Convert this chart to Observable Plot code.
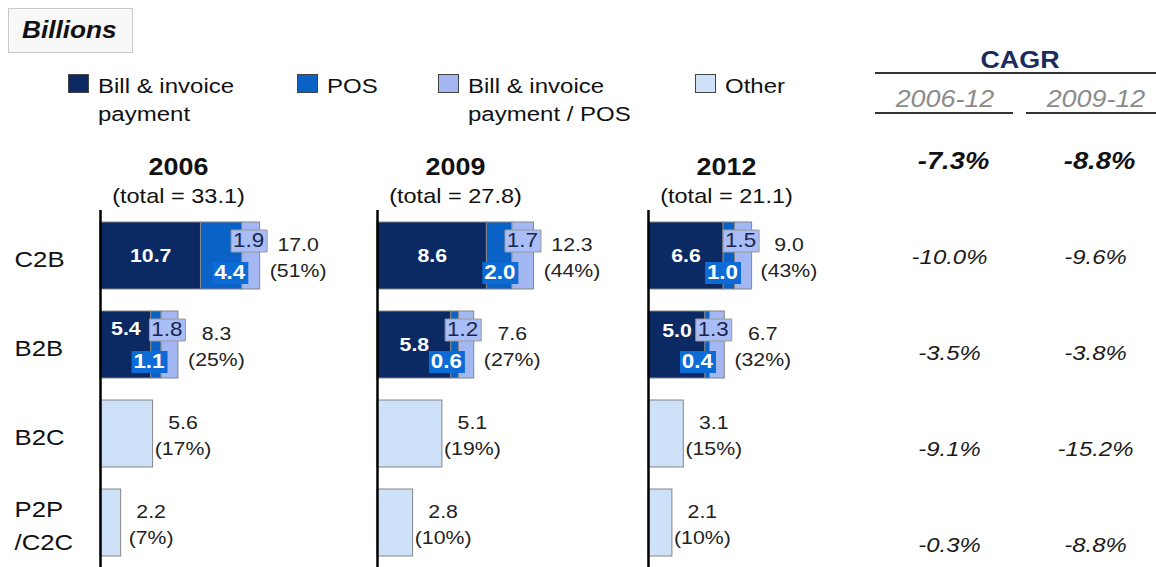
<!DOCTYPE html>
<html>
<head>
<meta charset="utf-8">
<script src="https://cdn.jsdelivr.net/npm/d3@7"></script>
<script src="https://cdn.jsdelivr.net/npm/@observablehq/plot@0.6"></script>
<style>
  body { margin: 0; background: #fff; overflow: hidden; font-family: "Liberation Sans", Arial, sans-serif; }
  #root { position: relative; width: 1156px; height: 567px; overflow: hidden; background: #fff; }
  .abs { position: absolute; }
  .billions { left: 8px; top: 8px; width: 125px; height: 45px; border: 1px solid #c9c9c9; background: #f8f8f8; box-sizing: border-box; }
  .billions span { position: absolute; left: 13px; top: 0; line-height: 43px; font-weight: bold; font-style: italic; font-size: 23px; color: #111;
                   transform: scaleX(1.14); transform-origin: left center; }
  .sw { width: 21px; height: 19px; border: 1px solid #444; box-sizing: border-box; }
  .lg { font-size: 20px; line-height: 28px; color: #111; width: 150px; transform: scaleX(1.2); transform-origin: left top; }
  .cagr { font-weight: bold; font-size: 24px; color: #1c2b5e; text-align: center; line-height: 26px; transform: scaleX(1.12); }
  .hline { height: 2px; background: #333; }
  .period { font-style: italic; font-size: 24px; color: #8c8c8c; text-align: center; line-height: 26px; transform: scaleX(1.12); }
</style>
</head>
<body>
<div id="root"></div>
<script>
// ---------------- data ----------------
const years = ["2006", "2009", "2012"];
const yearTotals = [33.1, 27.8, 21.1];
const categories = ["C2B", "B2B", "B2C", "P2P/C2C"];
const segments = ["Bill & invoice payment", "POS", "Bill & invoice payment / POS", "Other"];
const segmentColors = ["#0b2a63", "#0a62c6", "#a3b8f2", "#cde1f9"];

const c2bBill  = [10.7, 8.6, 6.6];
const c2bPOS   = [4.4, 2.0, 1.0];
const c2bMixed = [1.9, 1.7, 1.5];
const b2bBill  = [5.4, 5.8, 5.0];
const b2bPOS   = [1.1, 0.6, 0.4];
const b2bMixed = [1.8, 1.2, 1.3];
const b2cOther = [5.6, 5.1, 3.1];
const p2pOther = [2.2, 2.8, 2.1];

const c2bTotal = [17.0, 12.3, 9.0];
const b2bTotal = [8.3, 7.6, 6.7];
const c2bShare = [51, 44, 43];
const b2bShare = [25, 27, 32];
const b2cShare = [17, 19, 15];
const p2pShare = [7, 10, 10];

const cagrRows = ["Total", "C2B", "B2B", "B2C", "P2P/C2C"];
const cagrPeriods = ["2006-12", "2009-12"];
const cagr2006to12 = [-7.3, -10.0, -3.5, -9.1, -0.3];
const cagr2009to12 = [-8.8, -9.6, -3.8, -15.2, -8.8];

// ---------------- helpers ----------------
const FONT = '"Liberation Sans", Arial, sans-serif';
const root = document.getElementById("root");
function el(cls, css, html) {
  const d = document.createElement("div");
  d.className = "abs " + (cls || "");
  Object.assign(d.style, css);
  if (html != null) d.innerHTML = html;
  root.appendChild(d);
  return d;
}
// the reference typeface is horizontally widened; widen each text about its anchor
function widenText(svg, s) {
  svg.querySelectorAll("text").forEach(t => {
    const xa = t.getAttribute("x");
    const x = xa != null && /^-?[\d.]+$/.test(xa) ? +xa : 0;
    const old = t.getAttribute("transform") || "";
    t.setAttribute("transform", `${old} translate(${x},0) scale(${s},1) translate(${-x},0)`);
  });
}
const boxSymbol = (w, h) => ({draw(ctx) { ctx.rect(-w / 2, -h / 2, w, h); }});

// ---------------- HTML header parts ----------------
el("billions", {}, "<span>Billions</span>");

const legendX = [68, 297, 438, 695];
segments.forEach((s, i) => {
  el("sw", {left: legendX[i] + "px", top: "74px", background: segmentColors[i]});
  el("lg", {left: (legendX[i] + 30) + "px", top: "72px"}, s.replace(/&/g, "&amp;"));
});

el("cagr", {left: "875px", width: "290px", top: "47px"}, "CAGR");
el("hline", {left: "875px", width: "281px", top: "72px"});
el("period", {left: "875px", width: "140px", top: "86px"}, cagrPeriods[0]);
el("hline", {left: "875px", width: "138px", top: "112px"});
el("period", {left: "1027px", width: "138px", top: "86px"}, cagrPeriods[1]);
el("hline", {left: "1026px", width: "130px", top: "112px"});

// ---------------- year panels ----------------
const panels = [
  {left: 0,   width: 377, marginLeft: 100, xMax: 29.5, b2bLabelDy: -16},
  {left: 367, width: 281, marginLeft: 10,  xMax: 21.3, b2bLabelDy: 0},
  {left: 638, width: 232, marginLeft: 10,  xMax: 19.5, b2bLabelDy: -14}
];

panels.forEach((p, i) => {
  const rows = [
    {cat: "C2B", seg: segments[0], value: c2bBill[i]},
    {cat: "C2B", seg: segments[1], value: c2bPOS[i]},
    {cat: "C2B", seg: segments[2], value: c2bMixed[i]},
    {cat: "B2B", seg: segments[0], value: b2bBill[i]},
    {cat: "B2B", seg: segments[1], value: b2bPOS[i]},
    {cat: "B2B", seg: segments[2], value: b2bMixed[i]},
    {cat: "B2C", seg: segments[3], value: b2cOther[i]},
    {cat: "P2P/C2C", seg: segments[3], value: p2pOther[i]}
  ];
  const totals = [
    {cat: "C2B", total: c2bTotal[i], share: c2bShare[i], stacked: true},
    {cat: "B2B", total: b2bTotal[i], share: b2bShare[i], stacked: true},
    {cat: "B2C", total: b2cOther[i], share: b2cShare[i], stacked: false},
    {cat: "P2P/C2C", total: p2pOther[i], share: p2pShare[i], stacked: false}
  ];
  const fmt = v => v.toFixed(1);
  const isPOS = d => d.seg === segments[1];
  const isMixed = d => d.seg === segments[2];
  const marks = [
    Plot.barX(rows, Plot.stackX({x: "value", y: "cat", fill: "seg", stroke: "#858585", strokeWidth: 1})),
    // dark segment labels
    Plot.text(rows, Plot.stackX({x: "value", y: "cat",
      text: d => d.seg === segments[0] && d.cat === "C2B" ? fmt(d.value) : null,
      fill: "white", fontWeight: "bold", fontSize: 19})),
    Plot.text(rows, Plot.stackX({x: "value", y: "cat",
      text: d => d.seg === segments[0] && d.cat === "B2B" ? fmt(d.value) : null,
      fill: "white", fontWeight: "bold", fontSize: 19, dy: p.b2bLabelDy})),
    // POS label box + label
    Plot.dot(rows, Plot.stackX2({x: "value", y: "cat", r: d => isPOS(d) ? 1 : 0,
      symbol: boxSymbol(36, 22), fill: "#0c6bd4", stroke: "none", dx: -12, dy: 17})),
    Plot.text(rows, Plot.stackX2({x: "value", y: "cat",
      text: d => isPOS(d) ? fmt(d.value) : null,
      textAnchor: "end", dx: 3, dy: 17, fontWeight: "bold", fontSize: 20, fill: "white"})),
    // mixed label box + label
    Plot.dot(rows, Plot.stackX2({x: "value", y: "cat", r: d => isMixed(d) ? 1 : 0,
      symbol: boxSymbol(36, 22), fill: "#a9bdf6", stroke: "#9a9a9a", strokeWidth: 1, dx: -11, dy: -15})),
    Plot.text(rows, Plot.stackX2({x: "value", y: "cat",
      text: d => isMixed(d) ? fmt(d.value) : null,
      textAnchor: "end", dx: 4, dy: -15, fontSize: 20, fill: "#1b2450"})),
    // total labels
    Plot.text(totals.filter(d => d.stacked), {x: "total", y: "cat",
      text: d => `${fmt(d.total)}\n(${d.share}%)`, textAnchor: "middle", dx: 38,
      fontSize: 19, lineHeight: 1.38, fill: "#222"}),
    Plot.text(totals.filter(d => !d.stacked), {x: "total", y: "cat",
      text: d => `${fmt(d.total)}\n(${d.share}%)`, textAnchor: "middle", dx: 30,
      fontSize: 19, lineHeight: 1.38, fill: "#222"}),
    // axis line
    Plot.ruleX([0], {stroke: "#000", strokeWidth: 2.5}),
    // header
    Plot.text([years[i]], {frameAnchor: "top-left", dx: 78, dy: -53, text: d => d,
      fontSize: 24, fontWeight: "bold", textAnchor: "middle", fill: "#111"}),
    Plot.text([yearTotals[i]], {frameAnchor: "top-left", dx: 78, dy: -22,
      text: d => `(total = ${fmt(d)})`, fontSize: 21, textAnchor: "middle", fill: "#111"})
  ];
  if (i === 0) {
    marks.push(Plot.text(categories, {y: d => d, frameAnchor: "left", dx: -86,
      text: d => d.replace("/", "\n/"), textAnchor: "start", fontSize: 23, lineHeight: 1.45, fill: "#111"}));
  }
  const svg = Plot.plot({
    width: p.width, height: 427,
    marginTop: 70, marginBottom: 0, marginLeft: p.marginLeft, marginRight: 0,
    x: {domain: [0, p.xMax], axis: null},
    y: {domain: categories, axis: null, paddingInner: 0.25, paddingOuter: 0.125},
    color: {domain: segments, range: segmentColors},
    style: {fontFamily: FONT, background: "transparent", overflow: "visible"},
    marks
  });
  widenText(svg, 1.12);
  svg.style.position = "absolute";
  svg.style.left = p.left + "px";
  svg.style.top = "140px";
  root.appendChild(svg);
});

// ---------------- CAGR values ----------------
const cagrData = cagrRows.flatMap((r, i) => [
  {row: r, period: cagrPeriods[0], value: cagr2006to12[i]},
  {row: r, period: cagrPeriods[1], value: cagr2009to12[i]}
]);
const pct = v => v.toFixed(1) + "%";
const cagrSvg = Plot.plot({
  width: 286, height: 427,
  marginTop: 20, marginBottom: 22, marginLeft: 79, marginRight: 61,
  x: {type: "point", domain: cagrPeriods, padding: 0, axis: null},
  y: {type: "point", domain: cagrRows, padding: 0, axis: null},
  style: {fontFamily: FONT, background: "transparent", overflow: "visible"},
  marks: [
    Plot.text(cagrData.filter(d => d.row === "Total"), {x: "period", y: "row", text: d => pct(d.value),
      fontSize: 24, fontWeight: "bold", fontStyle: "italic", fill: "#111", dx: 4}),
    Plot.text(cagrData.filter(d => d.row !== "Total"), {x: "period", y: "row", text: d => pct(d.value),
      fontSize: 21, fontStyle: "italic", fill: "#1a1a1a"})
  ]
});
widenText(cagrSvg, 1.14);
cagrSvg.style.position = "absolute";
cagrSvg.style.left = "870px";
cagrSvg.style.top = "140px";
root.appendChild(cagrSvg);
</script>
</body>
</html>
